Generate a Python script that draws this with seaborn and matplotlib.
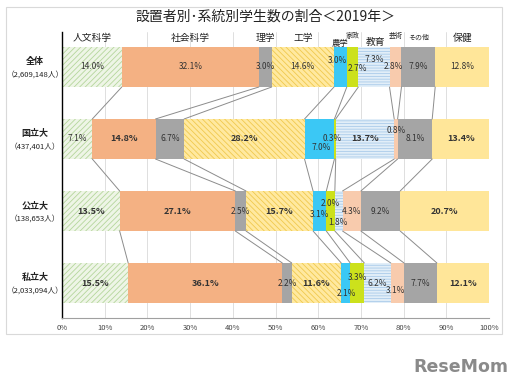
# ============================================
# Share of students by founder and field (2019)
# ============================================

import numpy as np
import pandas as pd
import matplotlib
matplotlib.use("Agg")
import matplotlib.pyplot as plt
import seaborn as sns
from matplotlib.patches import Rectangle


# ============================================
# Data
# ============================================

groups = ["全体", "国立大", "公立大", "私立大"]
group_counts = ["（2,609,148人）", "（437,401人）", "（138,653人）", "（2,033,094人）"]
fields = ["人文科学", "社会科学", "理学", "工学", "農学",
          "家政", "教育", "芸術", "その他", "保健"]

share_all = [14.0, 32.1, 3.0, 14.6, 3.0, 2.7, 7.3, 2.8, 7.9, 12.8]
share_national = [7.1, 14.8, 6.7, 28.2, 7.0, 0.3, 13.7, 0.8, 8.1, 13.4]
share_public = [13.5, 27.1, 2.5, 15.7, 3.1, 2.0, 1.8, 4.3, 9.2, 20.7]
share_private = [15.5, 36.1, 2.2, 11.6, 2.1, 3.3, 6.2, 3.1, 7.7, 12.1]

x_ticks = [0, 10, 20, 30, 40, 50, 60, 70, 80, 90, 100]

title = "設置者別･系統別学生数の割合＜2019年＞"


# ============================================
# Styles
# ============================================

face_colors = ["#EEF5E6", "#F4B183", "#A5A5A5", "#FFE9A0", "#3BC8F5",
               "#CCE11C", "#E2EEF8", "#F8CBAD", "#A5A5A5", "#FFE699"]
hatches = ["//////", None, None, "\\\\\\\\\\\\", None,
           None, "------", None, None, None]
hatch_colors = ["#B5D69C", None, None, "#F0C94E", None,
                None, "#A9CBEA", None, None, None]

# label nudges in pixels (dx, dy)
value_nudge = {
    (0, 4): (-3, 6), (0, 5): (5, -2), (0, 6): (0, 7), (0, 7): (-2, 0),
    (1, 4): (2, -9), (1, 5): (-3, 0), (1, 7): (0, 8),
    (2, 4): (0, -3), (2, 5): (0, 8), (2, 6): (-1, -11),
    (3, 4): (1, -10), (3, 5): (0, 6), (3, 7): (-2, -7),
}
field_label_nudge = [(0, 9), (0, 9), (0, 9), (0, 9), (0, 3),
                     (0, 11), (2, 5), (0, 11), (0, 9), (0, 9)]
field_label_size = [7, 7, 7, 7, 6, 5, 7, 5, 5, 7]

bar_h = 0.556
line_gray = "#8C8C8C"


# ============================================
# Setup
# ============================================

sns.set_theme(style="white")
plt.rcParams["font.family"] = ["Noto Sans CJK JP", "DejaVu Sans"]
plt.rcParams["hatch.linewidth"] = 0.6

share = pd.DataFrame(
    [share_all, share_national, share_public, share_private],
    index=groups,
    columns=fields
)
cum = share.cumsum(axis=1)

fig = plt.figure(figsize=(5.26, 3.9), dpi=100)
ax = fig.add_axes([62 / 526, 1 - 318 / 390, 427 / 526, 286 / 390])


# ============================================
# Stacked bars (overlay of cumulative bars)
# ============================================

for k in reversed(range(len(fields))):
    n0 = len(ax.patches)
    sns.barplot(
        x=cum.iloc[:, k].values,
        y=groups,
        orient="h",
        color=face_colors[k],
        saturation=1,
        width=bar_h,
        linewidth=0,
        ax=ax
    )
    if hatches[k]:
        for p in ax.patches[n0:]:
            p.set_hatch(hatches[k])
            p.set_edgecolor(hatch_colors[k])
            p.set_linewidth(0)


# connecting lines between rows
for i in range(len(groups) - 1):
    for k in range(len(fields) - 1):
        ax.plot(
            [cum.iloc[i, k], cum.iloc[i + 1, k]],
            [i + bar_h / 2, i + 1 - bar_h / 2],
            color=line_gray,
            lw=0.7,
            zorder=3
        )


# value labels
for i in range(len(groups)):
    for k in range(len(fields)):
        v = share.iloc[i, k]
        xc = cum.iloc[i, k] - v / 2
        dx, dy = value_nudge.get((i, k), (0, 0))
        bold = i > 0 and v >= 10
        ax.annotate(
            f"{v:.1f}%",
            xy=(xc, i),
            xytext=(dx, dy),
            textcoords="offset pixels",
            ha="center",
            va="center",
            fontsize=6.5 if bold else 6,
            fontweight="bold" if bold else "normal",
            color="#333333",
            zorder=5
        )


# field labels above the first bar
for k, name in enumerate(fields):
    v = share.iloc[0, k]
    xc = cum.iloc[0, k] - v / 2
    dx, dy = field_label_nudge[k]
    ax.annotate(
        name,
        xy=(xc, -bar_h / 2),
        xytext=(dx, dy),
        textcoords="offset pixels",
        ha="center",
        va="center",
        fontsize=field_label_size[k],
        color="#222222",
        annotation_clip=False
    )


# group labels at the left
trans = matplotlib.transforms.blended_transform_factory(ax.transAxes, ax.transData)
for i, (g, c) in enumerate(zip(groups, group_counts)):
    ax.text(-0.063, i - 0.08, g, transform=trans, ha="center", va="center",
            fontsize=6.5, fontweight="bold", color="#222222")
    ax.text(-0.063, i + 0.1, c, transform=trans, ha="center", va="center",
            fontsize=5.5, color="#222222")


# ============================================
# Axes styling
# ============================================

ax.set_xlim(0, 100)
ax.set_ylim(len(groups) - 1 + 0.486, -0.486)
ax.set_xticks(x_ticks)
ax.set_xticklabels([f"{t}%" for t in x_ticks], fontsize=5.5, color="#444444")
ax.set_yticks([])
ax.set_xlabel("")
ax.set_ylabel("")
ax.tick_params(axis="x", length=0, pad=4)

ax.grid(axis="x", color="#D9D9D9", lw=0.6)
ax.set_axisbelow(True)

for side in ["top", "right"]:
    ax.spines[side].set_visible(False)
ax.spines["left"].set_color("black")
ax.spines["left"].set_linewidth(1.0)
ax.spines["bottom"].set_color("#A0A0A0")
ax.spines["bottom"].set_linewidth(0.8)

# outer frame and title
fig.add_artist(Rectangle(
    (6 / 526, 1 - 334 / 390), 496 / 526, 327 / 390,
    transform=fig.transFigure, fill=False,
    edgecolor="#D9D9D9", lw=0.8
))
fig.text(265 / 526, 1 - 17 / 390, title, ha="center", va="center",
         fontsize=10, color="#222222")

# watermark
fig.text(461 / 526, 1 - 367 / 390, "ReseMom", ha="center", va="center",
         fontsize=12.5, fontweight="bold", color="#8A8A8A",
         family=["DejaVu Sans"])

plt.savefig("out.png", dpi=100)
